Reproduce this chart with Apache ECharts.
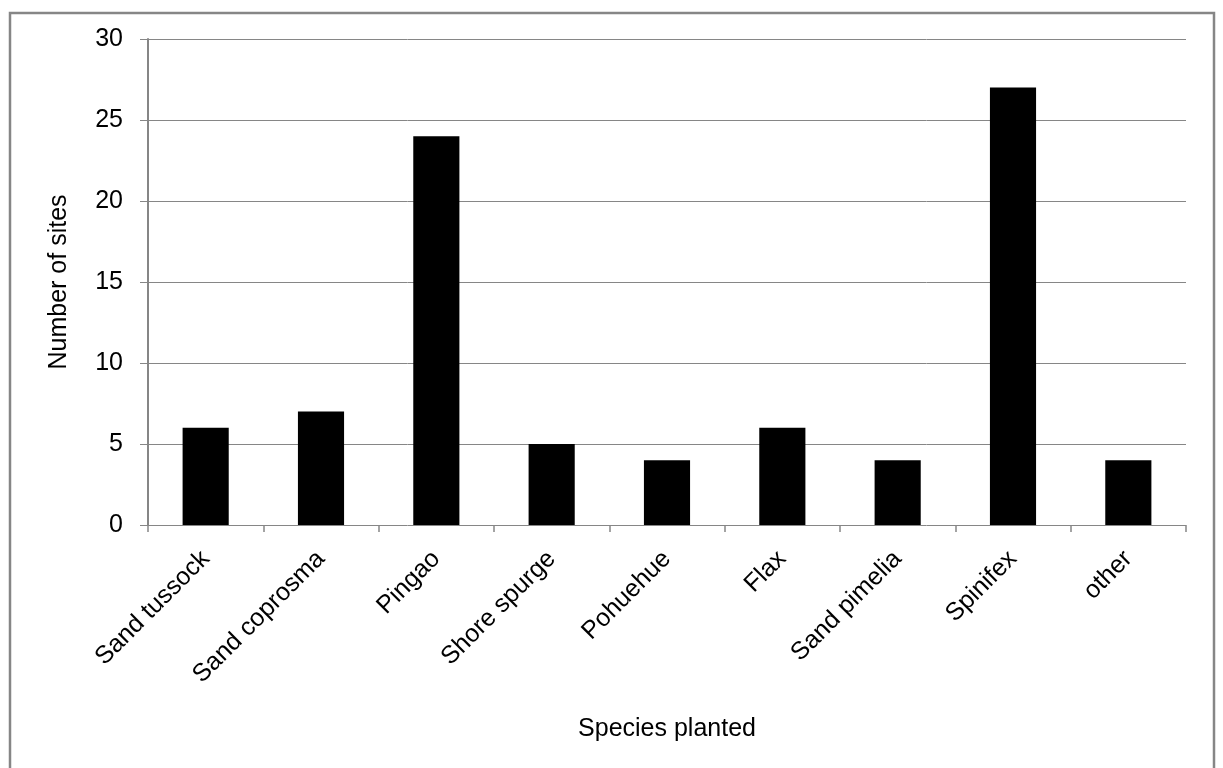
<!DOCTYPE html>
<html>
<head>
<meta charset="utf-8">
<title>Species planted</title>
<script src="https://cdn.jsdelivr.net/npm/echarts@6/dist/echarts.min.js"></script>
<style>
  html, body { margin: 0; padding: 0; background: #fff; }
  #chart { width: 1223px; height: 768px; }
</style>
</head>
<body>
<div id="chart"></div>
<script>
// Species categories and number of sites where each was planted
const species = ['Sand tussock', 'Sand coprosma', 'Pingao', 'Shore spurge', 'Pohuehue', 'Flax', 'Sand pimelia', 'Spinifex', 'other'];
const siteCounts = [6, 7, 24, 5, 4, 6, 4, 27, 4];
const yTicks = { min: 0, max: 30, interval: 5 };

const FONT = '"Liberation Sans", Arial, sans-serif';
const GRAY = '#868686';
const FS = 25;

const chart = echarts.init(document.getElementById('chart'), null, { renderer: 'canvas' });

chart.setOption({
  backgroundColor: '#ffffff',
  animation: false,
  textStyle: { fontFamily: FONT, color: '#000' },
  graphic: [{
    type: 'rect',
    shape: { x: 10, y: 13, width: 1204, height: 770 },
    style: { fill: 'none', stroke: GRAY, lineWidth: 2.5 },
    silent: true
  }],
  grid: { left: 148, right: 37, top: 39, bottom: 243, containLabel: false },
  xAxis: {
    type: 'category',
    data: species,
    name: 'Species planted',
    nameLocation: 'middle',
    nameGap: 192,
    nameTextStyle: { fontFamily: FONT, fontSize: FS, color: '#000' },
    axisLine: { show: false },
    axisTick: { show: true, alignWithLabel: false, length: 7, lineStyle: { color: GRAY, width: 1.5 } },
    axisLabel: { rotate: 45, margin: 30, fontFamily: FONT, fontSize: FS, color: '#000', interval: 0 },
    splitLine: { show: false }
  },
  yAxis: {
    type: 'value',
    min: yTicks.min,
    max: yTicks.max,
    interval: yTicks.interval,
    name: 'Number of sites',
    nameLocation: 'middle',
    nameGap: 76,
    nameRotate: 90,
    nameTextStyle: { fontFamily: FONT, fontSize: FS, color: '#000' },
    axisLine: { show: true, lineStyle: { color: GRAY, width: 2 } },
    axisTick: { show: true, length: 8, lineStyle: { color: GRAY, width: 1 } },
    axisLabel: { margin: 25, fontFamily: FONT, fontSize: FS, color: '#000' },
    splitLine: { show: true, lineStyle: { color: GRAY, width: 1 } }
  },
  series: [{
    type: 'bar',
    data: siteCounts,
    barCategoryGap: '60%',
    itemStyle: { color: '#000' }
  }]
});
</script>
</body>
</html>
